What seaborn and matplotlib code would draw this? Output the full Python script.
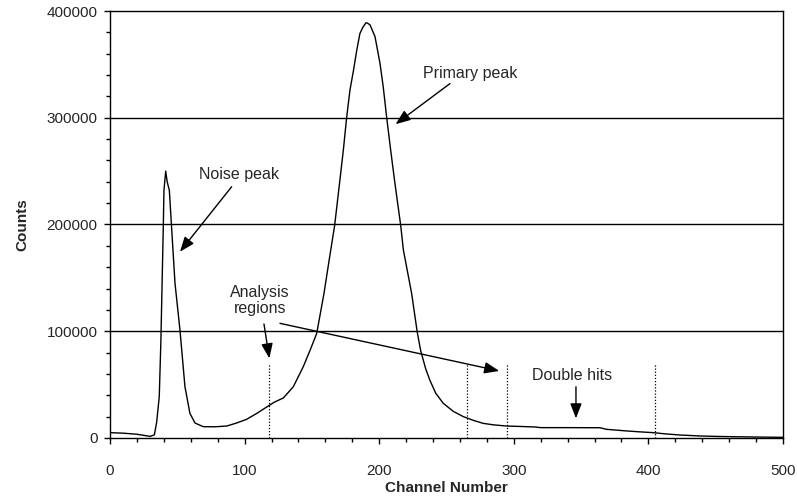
import numpy as np
import pandas as pd
import seaborn as sns
import matplotlib.pyplot as plt

sns.set_style("ticks")
plt.rcParams['font.family'] = ['Liberation Sans', 'DejaVu Sans']

# spectrum (channel, counts)
channel = [0, 10, 20, 30, 33, 34.7, 36.6, 37.8, 39.6, 40.1, 41.4, 42.5, 44.1, 45.3,
           48.3, 52, 55.7, 59.4, 63.2, 69.3, 78, 86.7, 94, 101.5, 109, 116.4, 122,
           128.8, 136.2, 143.6, 148.6, 153.6, 159, 163, 166.9, 171.4, 173.4, 175.8,
           178.3, 181, 183.3, 185.7, 188, 190.2, 191.5, 193.2, 196.9, 200.6, 203,
           205.6, 208.5, 211.7, 216, 218, 224.1, 228.3, 230.8, 234.5, 237.7, 242,
           247.6, 255, 262.5, 270, 277.3, 285, 294.7, 305, 316, 320, 340, 364, 369,
           383.9, 393, 403.6, 413, 423.5, 438, 450, 463, 480, 500]
counts = [5000, 4500, 3500, 1500, 3000, 15000, 38700, 90000, 198000, 232000, 250000,
          240000, 232000, 207000, 145000, 101000, 48000, 23000, 14000, 10600, 10500,
          11200, 14000, 17500, 23000, 29000, 33500, 37500, 48000, 66800, 82000, 98000,
          135500, 168000, 199000, 248000, 270000, 300000, 326000, 345000, 363000,
          379000, 385000, 389000, 388500, 387000, 376000, 351000, 329000, 300000,
          270000, 238600, 199000, 176000, 135500, 99000, 82000, 65000, 54000, 42000,
          32500, 25000, 20000, 16500, 13700, 12300, 11200, 10800, 10300, 9700, 9700,
          9600, 8100, 6600, 5800, 5000, 3800, 2800, 1900, 1500, 1200, 900, 600]

region_edges = [118, 265, 295, 405]
region_top = 70000

df = pd.DataFrame({'Channel Number': channel, 'Counts': counts})

fig = plt.figure(figsize=(7.97, 4.98), dpi=100)
ax = fig.add_axes([0.138, 0.1205, 0.8444, 0.8574])

for yv in [100000, 200000, 300000]:
    ax.axhline(yv, color='black', lw=1, zorder=1)

sns.lineplot(data=df, x='Channel Number', y='Counts', color='black', lw=1, ax=ax, zorder=3)

for xv in region_edges:
    ax.plot([xv, xv], [0, region_top], color='black', lw=0.9, ls=(0, (1, 1.5)), zorder=2)

ax.set_xlim(0, 500)
ax.set_ylim(0, 400000)
ax.set_xticks(np.arange(0, 501, 100))
ax.set_xticks(np.arange(0, 501, 20), minor=True)
ax.set_yticks(np.arange(0, 400001, 100000))
ax.set_yticks(np.arange(0, 400001, 20000), minor=True)
ax.tick_params(which='both', direction='out', color='black', width=1, labelsize=11)
ax.tick_params(which='major', length=4)
ax.tick_params(which='minor', length=3)
ax.tick_params(axis='x', which='major', pad=15)
ax.tick_params(axis='y', which='major', pad=5)
for s in ax.spines.values():
    s.set_color('black')
    s.set_linewidth(1)

ax.set_xlabel('Channel Number', fontsize=11, fontweight='bold', labelpad=2)
ax.set_ylabel('Counts', fontsize=11, fontweight='bold', labelpad=12)

arrow = dict(arrowstyle='-|>,head_length=0.9,head_width=0.35', color='black', lw=1,
             shrinkA=0, shrinkB=0)
fs = 11.5
ax.text(95.8, 247000, 'Noise peak', fontsize=fs, ha='center', va='center')
ax.annotate('', xy=(52, 174500), xytext=(90.4, 235400), arrowprops=arrow)
ax.text(267.5, 341500, 'Primary peak', fontsize=fs, ha='center', va='center')
ax.annotate('', xy=(212.2, 294000), xytext=(252.6, 332000), arrowprops=arrow)
ax.text(111.4, 128800, 'Analysis\nregions', fontsize=fs, ha='center', va='center',
        linespacing=1.15)
ax.annotate('', xy=(118.4, 74600), xytext=(114.4, 106800), arrowprops=arrow)
ax.annotate('', xy=(289.2, 62800), xytext=(126.3, 107400), arrowprops=arrow)
ax.text(343.6, 58500, 'Double hits', fontsize=fs, ha='center', va='center')
ax.annotate('', xy=(346.2, 18400), xytext=(346.2, 48000), arrowprops=arrow)

fig.savefig('out.png', dpi=100)
